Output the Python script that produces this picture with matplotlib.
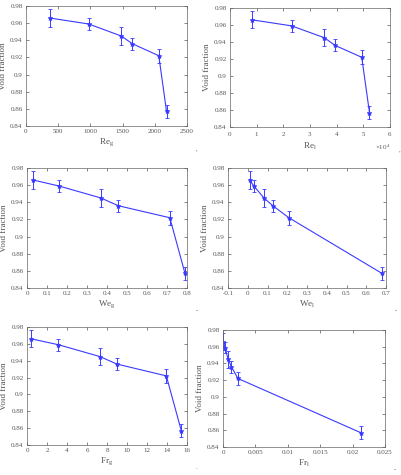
import matplotlib
matplotlib.use('Agg')
import matplotlib.pyplot as plt
import matplotlib.ticker as mtick
import numpy as np

plt.rcParams['font.family'] = ['Liberation Serif', 'DejaVu Serif']
plt.rcParams['mathtext.fontset'] = 'custom'
plt.rcParams['mathtext.rm'] = 'Liberation Serif'
plt.rcParams['mathtext.it'] = 'Liberation Serif:italic'

# shared void fraction data
void = [0.966, 0.959, 0.945, 0.936, 0.922, 0.857]
void_err = [0.010, 0.007, 0.010, 0.007, 0.008, 0.008]

# dimensionless numbers
re_g = [365, 974, 1479, 1651, 2062, 2182]
re_l = [8400, 23100, 35400, 39400, 49400, 52300]
we_g = [0.03, 0.16, 0.37, 0.456, 0.714, 0.79]
we_l = [0.009, 0.031, 0.082, 0.127, 0.208, 0.68]
fr_g = [0.4, 3.13, 7.27, 9.0, 13.93, 15.43]
fr_l = [0.00005, 0.0003, 0.0008, 0.0013, 0.0023, 0.0213]

W, H = 401, 475
blue = '#3a3aff'
grey = '#555555'

panels = [
    (re_g, r'Re$_\mathrm{g}$', (0, 2500), np.arange(0, 2501, 500), (26, 6, 187, 126), ','),
    (re_l, r'Re$_\mathrm{l}$', (0, 60000), np.arange(0, 60001, 10000), (230, 8, 390, 127), ','),
    (we_g, r'We$_\mathrm{g}$', (0, 0.8), np.arange(0, 0.81, 0.1), (27, 168, 187, 288), '-'),
    (we_l, r'We$_\mathrm{l}$', (-0.1, 0.7), np.arange(-0.1, 0.71, 0.1), (228, 168, 386, 288), '-'),
    (fr_g, r'Fr$_\mathrm{g}$', (0, 16), np.arange(0, 17, 2), (27, 327, 187, 445), '.'),
    (fr_l, r'Fr$_\mathrm{l}$', (0, 0.025), np.arange(0, 0.0251, 0.005), (223, 330, 385, 447), '-'),
]

fig = plt.figure(figsize=(W / 100, H / 100), dpi=100)

for i, (x, xlabel, xlim, xticks, (l, t, r, b), mark) in enumerate(panels):
    ax = fig.add_axes([l / W, 1 - b / H, (r - l) / W, (b - t) / H])
    ax.errorbar(x, void, yerr=void_err, color=blue, lw=0.8, marker='*',
                ms=3.5, mew=0.6, capsize=1.5, elinewidth=0.7, capthick=0.6)
    ax.set_xlim(*xlim)
    ax.set_ylim(0.84, 0.98)
    ax.set_xticks(xticks)
    ax.set_yticks(np.arange(0.84, 0.981, 0.02))
    ax.yaxis.set_major_formatter(mtick.FuncFormatter(lambda v, p: ('%.2f' % v).rstrip('0')))
    if i == 1:
        fmt = mtick.ScalarFormatter(useMathText=True)
        fmt.set_powerlimits((0, 0))
        ax.xaxis.set_major_formatter(fmt)
        ax.xaxis.get_offset_text().set_fontsize(5)
        ax.xaxis.get_offset_text().set_color(grey)
    elif i == 3:
        ax.set_xticklabels(['%g' % round(v, 1) for v in xticks])
    else:
        ax.set_xticklabels(['%g' % round(v, 4) for v in xticks])
    ax.tick_params(direction='in', top=True, right=True, labelsize=5, pad=2.5,
                   length=2.5, width=0.5, colors='#555555', labelcolor=grey)
    for s in ax.spines.values():
        s.set_linewidth(0.5)
        s.set_color('#666666')
    ax.set_xlabel(xlabel, fontsize=6.5, color=grey, labelpad=1.5)
    ax.set_ylabel('Void fraction', fontsize=6.5, color=grey, labelpad=2)
    # stray caption punctuation at each panel's lower right
    fig.text((r + 9) / W, 1 - (b + 24) / H, mark, fontsize=5, color=grey)

fig.savefig('out.png', dpi=100)
